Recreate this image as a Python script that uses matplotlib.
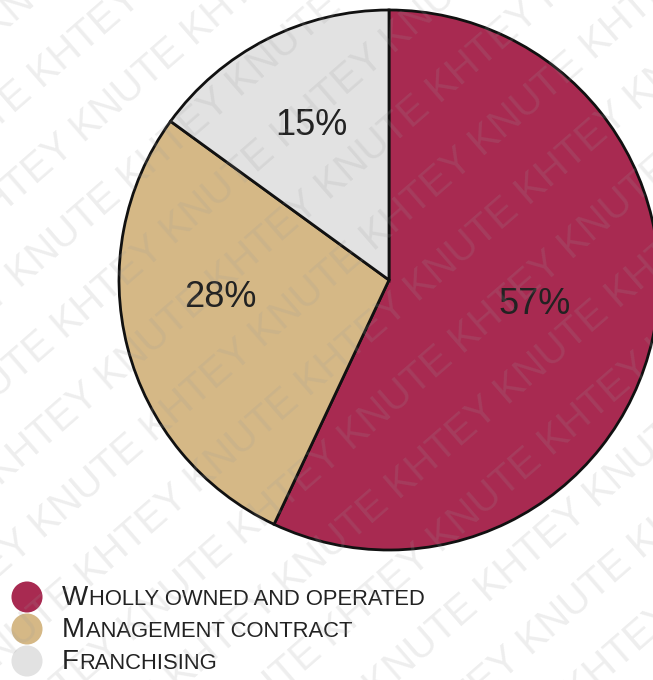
import matplotlib.pyplot as plt
import numpy as np

plt.rcParams['font.family'] = ['Liberation Sans', 'DejaVu Sans']

labels = ["Wholly owned and operated", "Management contract", "Franchising"]
shares = [57, 28, 15]
colors = ["#a82a51", "#d5b886", "#e2e2e2"]

W, H = 653, 680
fig = plt.figure(figsize=(W / 100, H / 100), dpi=100)
ax = fig.add_axes([0, 0, 1, 1])

# pie, clockwise from 12 o'clock
wedges, texts, pcts = ax.pie(shares, colors=colors, startangle=90, counterclock=False,
                             center=(389, 400), radius=270,
                             autopct=lambda p: "%d%%" % round(p), pctdistance=0.62,
                             wedgeprops=dict(edgecolor="#111111", linewidth=2),
                             textprops=dict(fontsize=26, color="#222222"))
# nudge the labels a little
shift = [(-18, 12), (-7, 24), (-2, 5)]
for t, (dx, dy) in zip(pcts, shift):
    x, y = t.get_position()
    t.set_position((x + dx, y + dy))

ax.set_xlim(0, W)
ax.set_ylim(0, H)
ax.set_aspect("equal")
ax.axis("off")

# legend with small caps text
row_y = [75, 43, 11]
for i in range(len(labels)):
    ax.scatter(27, row_y[i] + 8, s=31 ** 2 * 0.52, color=colors[i], edgecolors="none", clip_on=False)
    first = ax.text(62, row_y[i], labels[i][0], fontsize=20, color="#222222",
                    ha="left", va="baseline")
    ax.annotate(labels[i][1:].upper(), xy=(1, row_y[i]), xycoords=(first, "data"),
                xytext=(0.5, 0), textcoords="offset points",
                fontsize=15.8, color="#222222", ha="left", va="baseline")

# diagonal KNUTE / KHTEY overlay
words = ["KNUTE", "KHTEY"]
ang = np.deg2rad(41)
gap = 68
for r in range(-12, 14):
    row = " ".join([words[(r + k) % 2] for k in range(9)])
    ox = -200 + r * gap * np.sin(ang)
    oy = 200 - r * gap * np.cos(ang)
    ax.text(ox, oy, row, fontsize=29, color="#9a9a9a", alpha=0.17,
            rotation=41, rotation_mode="anchor", ha="left", va="baseline",
            clip_on=True, zorder=10)

fig.savefig("out.png", dpi=100)
